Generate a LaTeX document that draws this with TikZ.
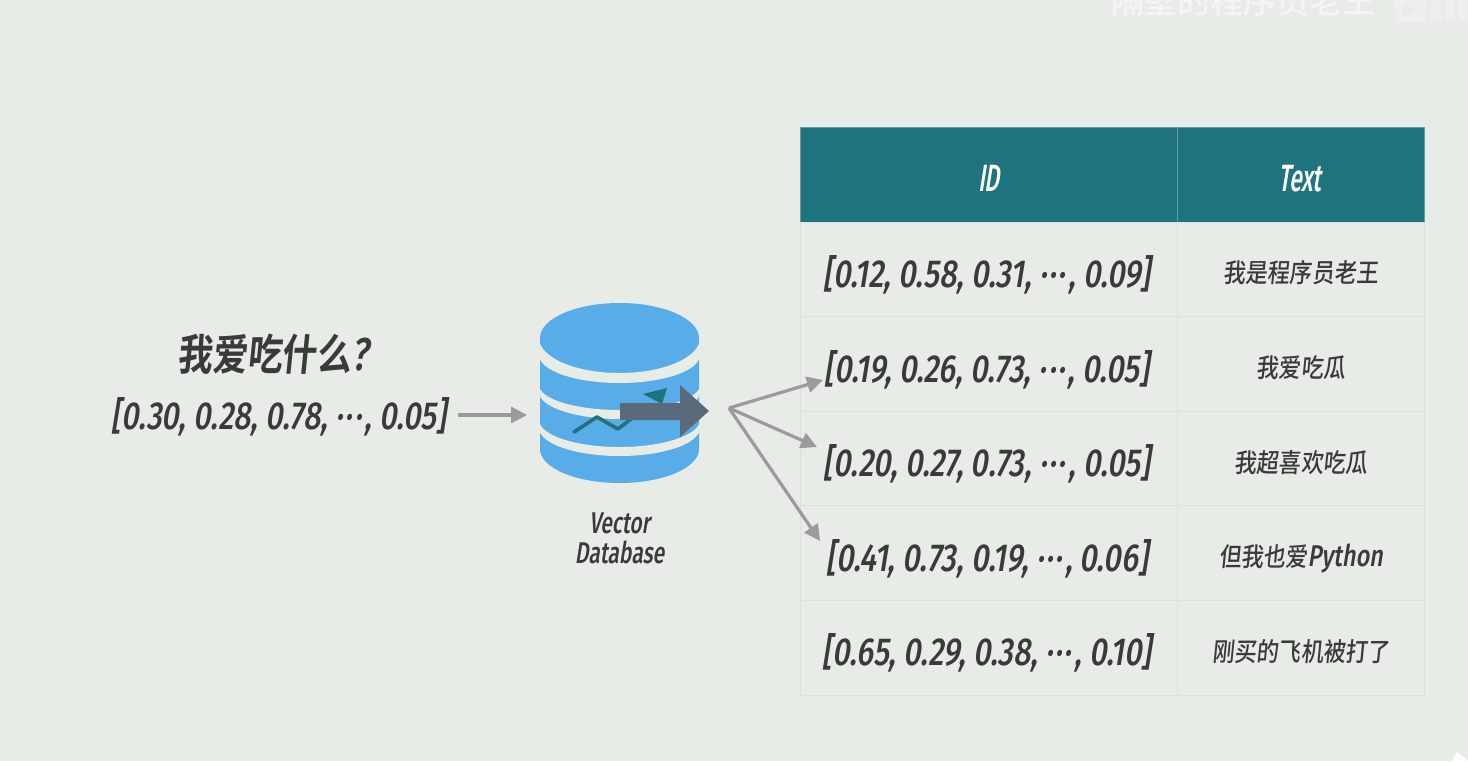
\documentclass[tikz,border=0pt]{standalone}
\usepackage{fontspec}
\usepackage{xcolor}
\usetikzlibrary{positioning,arrows.meta}
\newfontfamily\vecfont[FakeStretch=0.78,FakeSlant=0.16]{Fira Sans Medium}
\newfontfamily\headfont[FakeStretch=0.6,FakeSlant=0.16]{Fira Sans Medium}
\newfontfamily\labelfont[FakeStretch=0.7,FakeSlant=0.16]{Fira Sans Medium}
\newfontfamily\cjkfont[FakeSlant=0.1,FakeStretch=0.85]{Noto Sans CJK SC Medium}
\newfontfamily\titlefont[FakeSlant=0.1,FakeStretch=0.81]{Noto Sans CJK SC Bold}
\newfontfamily\markfont{Noto Sans CJK SC Medium}
\definecolor{PageBg}{RGB}{232,236,231}
\definecolor{HeadTeal}{RGB}{31,115,127}
\definecolor{DbBlue}{RGB}{88,172,232}
\definecolor{ArrowGray}{RGB}{154,156,154}
\definecolor{BigArrow}{RGB}{91,106,123}
\definecolor{GridGray}{RGB}{221,224,220}
\definecolor{InkGray}{RGB}{58,58,58}
\newcommand{\vecsize}{\fontsize{39}{41}\selectfont}
\newcommand{\cjksize}{\fontsize{26}{30}\selectfont}
\newcommand{\middots}{\textperiodcentered\kern2pt\textperiodcentered\kern2pt\textperiodcentered\kern3pt}
\newcommand{\vecrow}[1]{[#1]\kern4pt}

\begin{document}
\begin{tikzpicture}[x=1pt, y=-1pt, >=Latex, node distance=0pt]
      \tikzset{
        cell/.style={draw=GridGray, line width=1pt, outer sep=0pt, inner sep=0pt, minimum height=94.6pt, text=InkGray},
        idcell/.style={cell, minimum width=377pt, text height=36pt, text depth=0pt, font=\vecfont\vecsize},
        textcell/.style={cell, minimum width=247pt, text height=27pt, text depth=0pt, font=\cjkfont\cjksize},
        headcell/.style={cell, draw=HeadTeal!70!white, fill=HeadTeal, text=white, text height=34pt, text depth=0pt, font=\headfont\fontsize{38}{40}\selectfont},
        arrow/.style={-{Triangle[length=16pt, width=16pt]}, line width=3.2pt, draw=ArrowGray},
        gap/.style={fill=PageBg, draw=none}
      }
      \fill[PageBg] (0,0) rectangle (1468,761);
      \useasboundingbox (0,0) rectangle (1468,761);

      % table
      \node[headcell, minimum width=377pt, anchor=north west] (idhead) at (800.5,127.5) {ID};
      \node[headcell, minimum width=247pt, right=of idhead] (texthead) {Text\kern2pt};
      \node[idcell, below=of idhead] (idone) {\vecrow{0.12, 0.58, 0.31, \middots, 0.09}};
      \node[idcell, below=of idone] (idtwo) {\vecrow{0.19, 0.26, 0.73, \middots, 0.05}};
      \node[idcell, below=of idtwo] (idthree) {\vecrow{0.20, 0.27, 0.73, \middots, 0.05}};
      \node[idcell, below=of idthree] (idfour) {\vecrow{0.41, 0.73, 0.19, \middots, 0.06}};
      \node[idcell, below=of idfour] (idfive) {\vecrow{0.65, 0.29, 0.38, \middots, 0.10}};
      \node[textcell, below=of texthead] (textone) {我是程序员老王};
      \node[textcell, below=of textone] (texttwo) {我爱吃瓜};
      \node[textcell, below=of texttwo] (textthree) {我超喜欢吃瓜};
      \node[textcell, below=of textthree] (textfour) {但我也爱{\vecfont\fontsize{30}{30}\selectfont Python}};
      \node[textcell, below=of textfour] (textfive) {刚买的飞机被打了};

      % query
      \node[text=InkGray, font=\titlefont\fontsize{43}{45}\selectfont] (question) at (273,354) {我爱吃什么{\vecfont\fontsize{46}{46}\selectfont ?}};
      \node[text=InkGray, font=\vecfont\vecsize, inner sep=0pt] (queryvec) at (279,417) {[0.30, 0.28, 0.78, \middots, 0.05]};

      % database
      \node[minimum width=159pt, minimum height=180pt, inner sep=0pt, outer sep=0pt] (db) at (619.5,393) {};
      \fill[DbBlue] (540,338) arc[start angle=180, end angle=360, x radius=79.5, y radius=35] -- (699,449) arc[start angle=0, end angle=180, x radius=79.5, y radius=34] -- cycle;
      \fill[gap] (539,338) arc[start angle=180, end angle=0, x radius=80.5, y radius=35] -- (700,355) arc[start angle=0, end angle=180, x radius=80.5, y radius=28] -- cycle;
      \fill[gap] (539,385) arc[start angle=180, end angle=0, x radius=80.5, y radius=25] -- (700,392) arc[start angle=0, end angle=180, x radius=80.5, y radius=27] -- cycle;
      \fill[gap] (539,420) arc[start angle=180, end angle=0, x radius=80.5, y radius=27] -- (700,428) arc[start angle=0, end angle=180, x radius=80.5, y radius=28] -- cycle;
      \draw[HeadTeal, line width=3.6pt, line cap=round, line join=round] (574,432) -- (597,417) -- (618,429) -- (640,412);
      \fill[HeadTeal] (643,394) -- (667,388) -- (662,404) -- cycle;
      \fill[BigArrow] (620,403) -- (680,403) -- (680,385) -- (709,411) -- (680,437) -- (680,420) -- (620,420) -- cycle;
      \node[text=InkGray, font=\labelfont\fontsize{30}{30}\selectfont, align=center, below=26pt of db] (dblabel) {Vector\\Database};

      % fan of results
      \coordinate (fan) at (729,408);
      \coordinate (hitone) at (823,380);
      \coordinate (hittwo) at (817,447);
      \coordinate (hitthree) at (820,541);
      \coordinate (queryend) at (527,415);
      \coordinate (querystart) at (458,415);
      \draw[arrow] (querystart) -- (queryend);
      \draw[arrow] (fan) -- (hitone);
      \draw[arrow] (fan) -- (hittwo);
      \draw[arrow] (fan) -- (hitthree);

      % watermark
      \node[text=white, opacity=0.55, font=\markfont\fontsize{33}{35}\selectfont] (mark) at (1243,1) {隔壁的程序员老王};
      \fill[white, opacity=0.25, even odd rule] (1393,0) -- (1427,0) -- (1425,22) -- (1397,22) -- cycle (1403,3) -- (1403,17) -- (1417,10) -- cycle;
      \fill[white, opacity=0.25] (1431,0) rectangle (1441,20) (1445,0) rectangle (1455,20) (1459,0) rectangle (1468,20);
      \fill[white] (1452,761) -- (1457,752) -- (1468,761) -- cycle;
    \end{tikzpicture}
\end{document}
